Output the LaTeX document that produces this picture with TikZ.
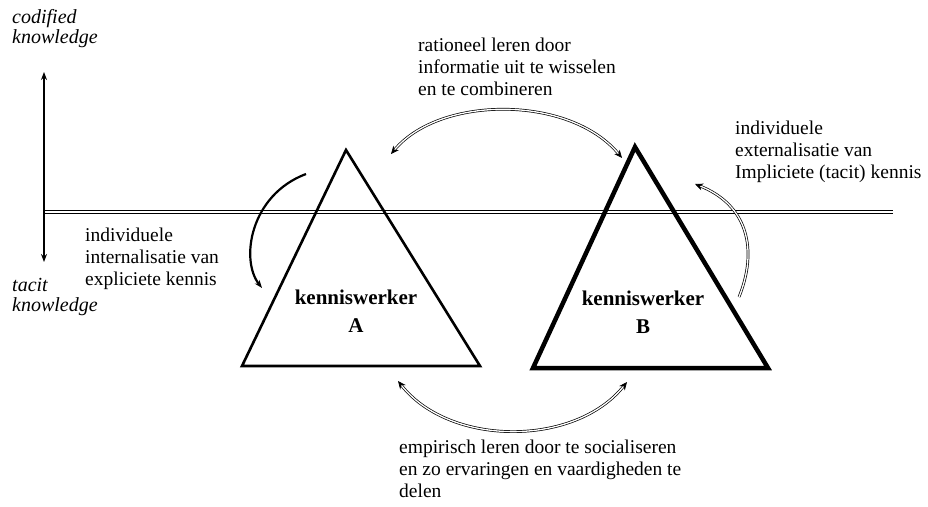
\documentclass[tikz,border=0pt]{standalone}
\usepackage{fontspec}
\setmainfont{Liberation Serif}
\usetikzlibrary{arrows.meta, positioning}
\tikzset{
  >=Stealth,
  axisarrow/.style={{Stealth[length=8pt, width=6pt]}-{Stealth[length=8pt, width=6pt]}, line width=1.6pt, black},
  turnarrow/.style={-{Stealth[length=8pt, width=6pt]}, line width=2.2pt, black},
  dblarrow/.style={-{Stealth[length=8pt, width=7pt]}, double=white, double distance=1.3pt, line width=0.7pt},
  dblarrows/.style={{Stealth[length=8pt, width=7pt]}-{Stealth[length=8pt, width=7pt]}, double=white, double distance=1.3pt, line width=0.7pt},
  levelline/.style={double=white, double distance=1.5pt, line width=0.9pt},
  werkerA/.style={line width=2.6pt, line join=miter},
  werkerB/.style={line width=4.5pt, line join=miter},
  labeltext/.style={anchor=north west, align=left, inner sep=0pt, font=\fontsize{19.5}{22}\selectfont},
  axistext/.style={anchor=north west, align=left, inner sep=0pt, font=\fontsize{20}{20}\selectfont\itshape},
  werkertext/.style={anchor=north, align=center, inner sep=0pt, font=\fontsize{21}{28.5}\selectfont\bfseries}
}
\begin{document}
\begin{tikzpicture}[x=1pt, y=-1pt]
    \useasboundingbox (0,0) rectangle (928,506);

    % axis and level line
    \coordinate (ktop) at (44,72);
    \coordinate (kbot) at (44,262);
    \coordinate (lstart) at (44,212);
    \coordinate (lend) at (893,212);
    \draw[levelline] (lstart) -- (lend);
    \draw[axisarrow] (kbot) -- (ktop);

    \node[axistext] (codified) at (12,9.5) {codified\\knowledge};
    \node[axistext] (tacit) at (12,278) {tacit\\knowledge};

    % kenniswerkers
    \coordinate (topA) at (346,150);
    \coordinate (rightA) at (480,366);
    \coordinate (leftA) at (242,366);
    \coordinate (topB) at (635,147);
    \coordinate (rightB) at (768,368);
    \coordinate (leftB) at (533,368);
    \draw[werkerA] (topA) -- (rightA) -- (leftA) -- cycle;
    \draw[werkerB] (topB) -- (rightB) -- (leftB) -- cycle;
    \node[werkertext] (wA) at (356,289.5) {kenniswerker\\A};
    \node[werkertext] (wB) at (643,290.5) {kenniswerker\\B};

    % labels
    \node[labeltext] (rationeel) at (418,38) {rationeel leren door\\informatie uit te wisselen\\en te combineren};
    \node[labeltext] (extern) at (735,121) {individuele\\externalisatie van\\Impliciete (tacit) kennis};
    \node[labeltext] (intern) at (85,228) {individuele\\internalisatie van\\expliciete kennis};
    \node[labeltext] (empirisch) at (399,440) {empirisch leren door te socialiseren\\en zo ervaringen en vaardigheden te\\delen};

    % arrows
    \coordinate (inS) at (306,174);
    \coordinate (inE) at (262,288);
    \coordinate (exS) at (739,297);
    \coordinate (exE) at (695,184);
    \coordinate (raA) at (391,154);
    \coordinate (raB) at (622,158);
    \coordinate (emA) at (398,381);
    \coordinate (emB) at (627,382);
    \draw[turnarrow] (inS) .. controls (250,195) and (240,260) .. (inE);
    \draw[dblarrow] (exS) .. controls (758,250) and (748,205) .. (exE);
    \draw[dblarrows] (raA) .. controls (440,95) and (570,95) .. (raB);
    \draw[dblarrows] (emA) .. controls (450,447) and (575,447) .. (emB);
\end{tikzpicture}
\end{document}
